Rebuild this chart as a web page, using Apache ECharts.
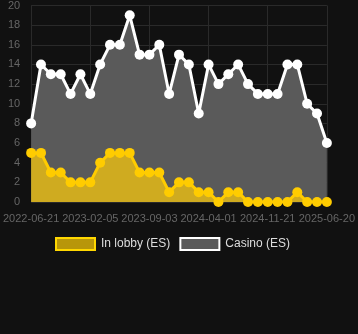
<!DOCTYPE html>
<html><head><meta charset="utf-8">
<script src="https://cdn.jsdelivr.net/npm/echarts@6/dist/echarts.min.js"></script>
<style>html,body{margin:0;padding:0;background:#111111;}#c{width:358px;height:334px;}</style>
</head><body><div id="c"></div>
<script>
const dates = ["2022-06-21","2022-07-29","2022-09-05","2022-10-13","2022-11-20","2022-12-28","2023-02-05","2023-03-12","2023-04-16","2023-05-21","2023-06-25","2023-07-30","2023-09-03","2023-10-08","2023-11-12","2023-12-17","2024-01-21","2024-02-25","2024-04-01","2024-05-10","2024-06-18","2024-07-27","2024-09-04","2024-10-13","2024-11-21","2024-12-26","2025-01-30","2025-03-06","2025-04-10","2025-05-15","2025-06-20"];
const lobby = [5,5,3,3,2,2,2,4,5,5,5,3,3,3,1,2,2,1,1,0,1,1,0,0,0,0,0,1,0,0,0];
const casino = [8,14,13,13,11,13,11,14,16,16,19,15,15,16,11,15,14,9,14,12,13,14,12,11,11,11,14,14,10,9,6];
const yTicks = {min:0,max:20,interval:2};

const chart = echarts.init(document.getElementById('c'));
chart.setOption({
  backgroundColor:'#111111',
  animation:false,
  grid:{left:31,right:29,top:5,bottom:132},
  legend:{
    top:237, left:55, padding:0, itemWidth:39, itemHeight:12, itemGap:9,
    textStyle:{color:'#dddddd',fontSize:12,fontFamily:'Arial',padding:[0,0,0,1]},
    data:[
      {name:'In lobby (ES)',icon:'rect',itemStyle:{color:'#b8960a',borderColor:'#ffd700',borderWidth:2}},
      {name:'Casino (ES)',icon:'rect',itemStyle:{color:'#5a5a5a',borderColor:'#ffffff',borderWidth:2}}
    ]
  },
  xAxis:{
    type:'category', data:dates, boundaryGap:false,
    axisLine:{show:false}, axisTick:{show:false},
    axisLabel:{color:'#666666',fontSize:11,fontFamily:'Arial',interval:5,margin:11},
    splitLine:{show:true,interval:5,lineStyle:{color:'#2a2a2a',width:1}}
  },
  yAxis:{
    type:'value', min:yTicks.min, max:yTicks.max, interval:yTicks.interval,
    axisLine:{show:false}, axisTick:{show:false},
    axisLabel:{color:'#666666',fontSize:11,fontFamily:'Arial',margin:11},
    splitLine:{lineStyle:{color:'#2a2a2a',width:1}}
  },
  series:[
    {name:'Casino (ES)',type:'line',data:casino,z:2,
     symbol:'circle',symbolSize:10,showAllSymbol:true,
     lineStyle:{color:'#ffffff',width:3},
     itemStyle:{color:'#ffffff'},
     areaStyle:{color:'#5a5a5a',opacity:1}},
    {name:'In lobby (ES)',type:'line',data:lobby,z:3,
     symbol:'circle',symbolSize:10,showAllSymbol:true,
     lineStyle:{color:'#ffcc00',width:3},
     itemStyle:{color:'#ffcc00'},
     areaStyle:{color:'#cfab20',opacity:1}}
  ]
});
</script></body></html>
